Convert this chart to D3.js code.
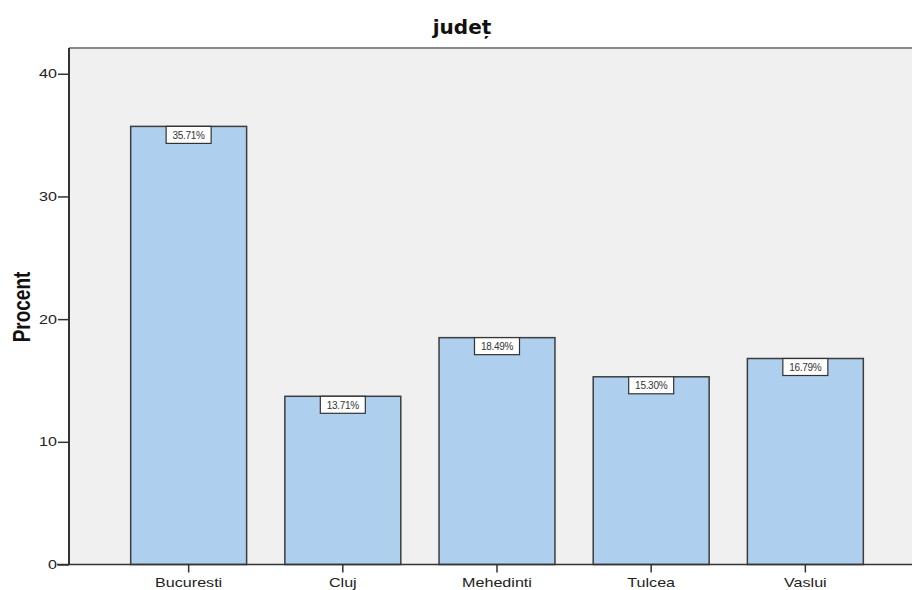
<!DOCTYPE html>
<html><head><meta charset="utf-8">
<script src="https://cdn.jsdelivr.net/npm/d3@7"></script>
<style>body{margin:0;background:#fff;} svg{display:block;}</style>
</head><body>
<svg id="c" width="912" height="590"></svg>
<script>
const categories = ["Bucuresti", "Cluj", "Mehedinti", "Tulcea", "Vaslui"];
const values = [35.71, 13.71, 18.49, 15.30, 16.79];
const yTicks = [0, 10, 20, 30, 40];
const title = "județ";
const yTitle = "Procent";

const svg = d3.select("#c");
const L = 69, T = 48, R = 925, B = 564.5;
const SX = 1.24; // horizontal stretch of the reference's text
const x = d3.scaleBand().domain(categories).range([L, R]).paddingInner(0.248).paddingOuter(0.4);
const y = d3.scaleLinear().domain([0, 42.1]).range([B, T]);
const FONT = "'Liberation Sans', Arial, sans-serif";

svg.append("rect").attr("x", L).attr("y", T).attr("width", R - L).attr("height", B - T).attr("fill", "#f0f0f0");
svg.append("line").attr("x1", L).attr("x2", 912).attr("y1", T).attr("y2", T).attr("stroke", "#8a8a8a").attr("stroke-width", 2);

svg.selectAll("rect.bar").data(categories).enter().append("rect").attr("class", "bar")
  .attr("x", d => x(d)).attr("width", x.bandwidth())
  .attr("y", (d, i) => y(values[i])).attr("height", (d, i) => B - y(values[i]))
  .attr("fill", "#aecfee").attr("stroke", "#3d3d3d").attr("stroke-width", 1.5);

const yAxis = svg.append("g").attr("transform", `translate(${L},0)`)
  .call(d3.axisLeft(y).tickValues(yTicks).tickSize(11).tickPadding(1).tickFormat(d3.format("d")));
yAxis.select(".domain").attr("d", `M0,${T}V${B}`).attr("stroke", "#333").attr("stroke-width", 2);
yAxis.selectAll(".tick line").attr("stroke", "#333").attr("stroke-width", 1.5);
yAxis.selectAll("text").attr("font-family", FONT).attr("font-size", 13).attr("fill", "#222")
  .attr("x", -12 / SX).attr("transform", `scale(${SX},1)`);

const xAxis = svg.append("g").attr("transform", `translate(0,${B})`)
  .call(d3.axisBottom(x).tickSize(8).tickPadding(5));
xAxis.select(".domain").attr("d", `M${L - 12},0H912`).attr("stroke", "#333").attr("stroke-width", 1.5);
xAxis.selectAll(".tick line").attr("stroke", "#333").attr("stroke-width", 1.5);
xAxis.selectAll("text").attr("font-family", FONT).attr("font-size", 13).attr("fill", "#222")
  .attr("transform", `scale(${SX},1)`);

const lab = svg.selectAll("g.lab").data(categories).enter().append("g").attr("class", "lab")
  .attr("transform", (d, i) => `translate(${x(d) + x.bandwidth() / 2},${y(values[i])})`);
lab.append("rect").attr("x", -22.5).attr("y", 0).attr("width", 45).attr("height", 17)
  .attr("fill", "#fff").attr("stroke", "#333").attr("stroke-width", 1.2);
lab.append("text").attr("x", 0).attr("y", 12.5).attr("text-anchor", "middle")
  .attr("font-family", FONT).attr("font-size", 10).attr("fill", "#333").attr("letter-spacing", -0.3)
  .text((d, i) => values[i].toFixed(2) + "%");

svg.append("text").attr("x", 462).attr("y", 34).attr("text-anchor", "middle")
  .attr("font-family", "'DejaVu Sans', sans-serif").attr("font-weight", "bold").attr("font-size", 20).attr("fill", "#111").text(title);
svg.append("text").attr("transform", `translate(30,307) scale(${SX},1) rotate(-90)`).attr("text-anchor", "middle")
  .attr("font-family", FONT).attr("font-weight", "bold").attr("font-size", 19).attr("fill", "#111").text(yTitle);
</script>
</body></html>
